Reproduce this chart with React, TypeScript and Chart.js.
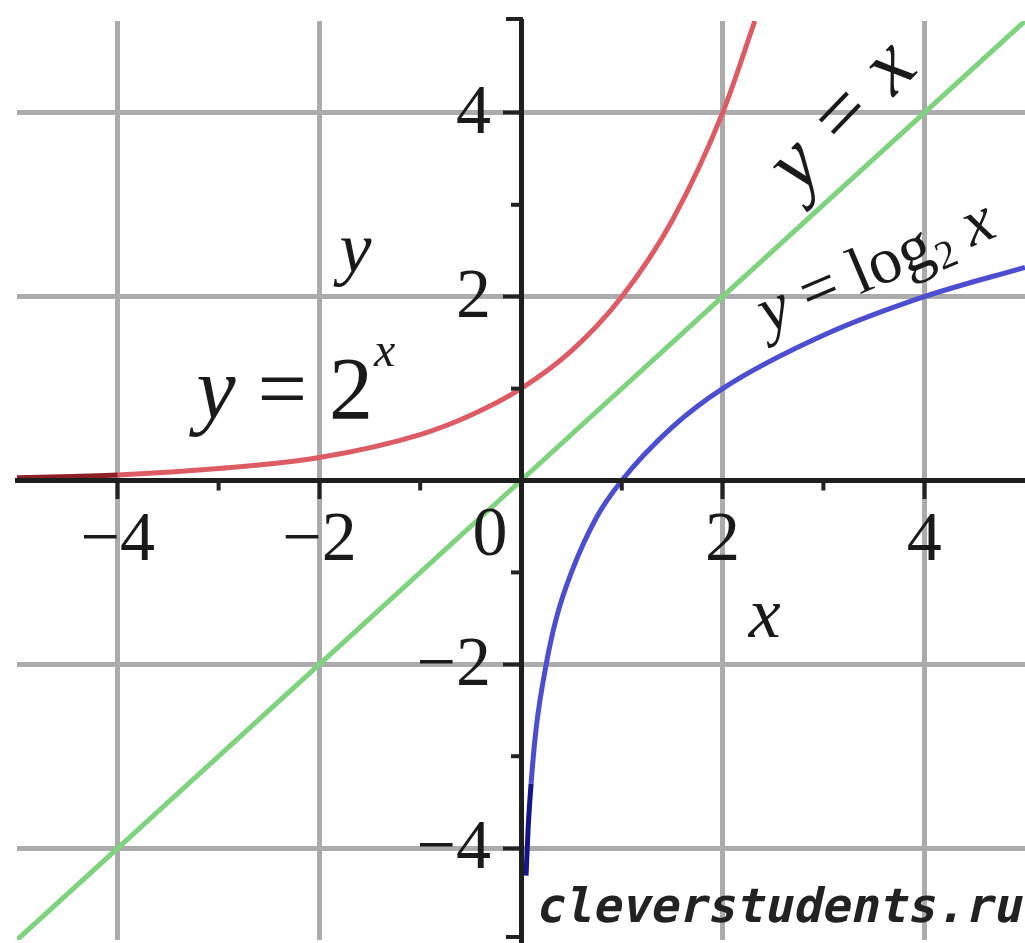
import React, { useEffect, useRef } from "react";
import { Chart, registerables } from "chart.js";

Chart.register(...registerables);

// Axis ranges and tick labels
const X_RANGE = [-5, 5];
const Y_RANGE = [-5, 5];
const X_TICKS = [-4, -2, 2, 4];
const Y_TICKS = [-4, -2, 2, 4];
const MINOR_TICKS = [-3, -1, 1, 3];

// y = 2^x (red)
const EXP_X = [-5, -4, -3, -2, -1, -0.5, 0, 0.5, 1, 1.5, 2, 2.32];
const EXP_Y = [0.03, 0.06, 0.13, 0.25, 0.5, 0.71, 1, 1.41, 2, 2.83, 4, 5];

// y = x (green)
const LIN_X = [-5, -4, -2, 0, 2, 4, 5];
const LIN_Y = [-5, -4, -2, 0, 2, 4, 5];

// y = log2 x (blue)
const LOG_X = [0.05, 0.07, 0.1, 0.15, 0.25, 0.35, 0.5, 0.75, 1, 1.5, 2, 3, 4, 5];
const LOG_Y = [-4.3, -3.8, -3.3, -2.7, -2, -1.5, -1, -0.4, 0, 0.58, 1, 1.58, 2, 2.32];

const WATERMARK = "cleverstudents.ru";

const SERIF = "'Liberation Serif', 'DejaVu Serif', serif";

const toPoints = (xs: number[], ys: number[]) => xs.map((x, i) => ({ x, y: ys[i] }));
const minusLabel = (v: number) => (v < 0 ? "\u2212" + Math.abs(v) : String(v));

const annotations = {
  id: "annotations",
  afterDraw(chart: any) {
    const { ctx, scales, chartArea } = chart;
    const xs = scales.x;
    const ys = scales.y;
    const x0 = xs.getPixelForValue(0);
    const y0 = ys.getPixelForValue(0);
    ctx.save();
    ctx.strokeStyle = "#222";
    ctx.lineWidth = 4;
    // minor ticks
    MINOR_TICKS.forEach((v) => {
      const px = xs.getPixelForValue(v);
      ctx.beginPath();
      ctx.moveTo(px, y0);
      ctx.lineTo(px, y0 + 10);
      ctx.stroke();
      const py = ys.getPixelForValue(v);
      ctx.beginPath();
      ctx.moveTo(x0, py);
      ctx.lineTo(x0 - 10, py);
      ctx.stroke();
    });
    // bracket ends of the y axis
    ctx.beginPath();
    ctx.moveTo(x0 - 15, chartArea.top - 2);
    ctx.lineTo(x0 + 2, chartArea.top - 2);
    ctx.moveTo(x0 - 15, chartArea.bottom - 3);
    ctx.lineTo(x0 + 2, chartArea.bottom - 3);
    ctx.stroke();

    ctx.fillStyle = "#1a1a1a";
    // y tick labels
    ctx.font = `70px ${SERIF}`;
    ctx.textAlign = "right";
    ctx.textBaseline = "middle";
    Y_TICKS.forEach((v) => {
      ctx.fillText(minusLabel(v), x0 - 30, ys.getPixelForValue(v) + 2);
    });
    // origin label
    ctx.textAlign = "center";
    ctx.fillText("0", x0 - 31, y0 + 56);

    // axis names
    ctx.font = `italic 72px ${SERIF}`;
    ctx.textAlign = "left";
    ctx.textBaseline = "alphabetic";
    ctx.fillText("y", xs.getPixelForValue(-1.8), ys.getPixelForValue(2.27));
    ctx.fillText("x", xs.getPixelForValue(2.26), ys.getPixelForValue(-1.7));

    // y = 2^x
    let cx = xs.getPixelForValue(-3.22);
    const by = ys.getPixelForValue(0.68);
    ctx.font = `italic 88px ${SERIF}`;
    ctx.fillText("y", cx, by);
    cx += ctx.measureText("y").width;
    ctx.font = `88px ${SERIF}`;
    ctx.fillText(" = 2", cx, by);
    cx += ctx.measureText(" = 2").width;
    ctx.font = `italic 48px ${SERIF}`;
    ctx.fillText("x", cx + 1, by - 52);

    // y = x (rotated)
    ctx.save();
    ctx.translate(xs.getPixelForValue(3.2), ys.getPixelForValue(3.95));
    ctx.rotate((-46 * Math.PI) / 180);
    ctx.font = `italic 84px ${SERIF}`;
    ctx.textAlign = "center";
    ctx.textBaseline = "middle";
    ctx.fillText("y = x", 0, 0);
    ctx.restore();

    // y = log2 x (rotated)
    ctx.save();
    ctx.translate(xs.getPixelForValue(2.45), ys.getPixelForValue(1.6));
    ctx.rotate((-23 * Math.PI) / 180);
    ctx.textAlign = "left";
    ctx.textBaseline = "alphabetic";
    let lx = 0;
    ctx.font = `italic 66px ${SERIF}`;
    ctx.fillText("y", lx, 0);
    lx += ctx.measureText("y").width;
    ctx.font = `66px ${SERIF}`;
    ctx.fillText(" = log", lx, 0);
    lx += ctx.measureText(" = log").width;
    ctx.font = `40px ${SERIF}`;
    ctx.fillText("2", lx + 1, 10);
    lx += ctx.measureText("2").width + 1;
    ctx.font = `66px ${SERIF}`;
    lx += ctx.measureText(" ").width;
    ctx.font = `italic 66px ${SERIF}`;
    ctx.fillText("x", lx, 0);
    ctx.restore();

    // watermark (slanted monospace)
    ctx.save();
    const wx = chartArea.right - 4;
    const wy = chartArea.bottom - 18;
    ctx.translate(wx, wy);
    ctx.transform(1, 0, -0.22, 1, 0, 0);
    ctx.font = `bold 47.5px 'DejaVu Sans Mono', monospace`;
    ctx.textAlign = "right";
    ctx.textBaseline = "alphabetic";
    ctx.fillStyle = "#222";
    ctx.fillText(WATERMARK, 0, 0);
    ctx.restore();
    ctx.restore();
  },
};

export default function App() {
  const canvasRef = useRef<HTMLCanvasElement | null>(null);

  useEffect(() => {
    if (!canvasRef.current) return;
    const chart = new Chart(canvasRef.current, {
      type: "scatter",
      data: {
        datasets: [
          {
            label: "y = 2^x",
            data: toPoints(EXP_X, EXP_Y),
            showLine: true,
            borderColor: "#dc5c66",
            borderWidth: 5,
            pointRadius: 0,
            cubicInterpolationMode: "monotone",
            segment: {
              borderColor: (c: any) => (c.p1.parsed.x <= -3.5 ? "#8e1f24" : undefined),
            },
          },
          {
            label: "y = x",
            data: toPoints(LIN_X, LIN_Y),
            showLine: true,
            borderColor: "#7fd27f",
            borderWidth: 5,
            pointRadius: 0,
          },
          {
            label: "y = log2 x",
            data: toPoints(LOG_X, LOG_Y),
            showLine: true,
            borderColor: "#4d4dcf",
            borderWidth: 5,
            pointRadius: 0,
            cubicInterpolationMode: "monotone",
            segment: {
              borderColor: (c: any) => (c.p1.parsed.y <= -3.3 ? "#15158a" : undefined),
            },
          },
        ],
      },
      options: {
        animation: false,
        responsive: false,
        devicePixelRatio: 1,
        layout: { padding: { left: 17, right: 0, top: 21, bottom: 3 } },
        plugins: { legend: { display: false }, tooltip: { enabled: false } },
        scales: {
          x: {
            type: "linear",
            min: X_RANGE[0],
            max: X_RANGE[1],
            position: { y: 0 } as any,
            afterBuildTicks: (s: any) => {
              s.ticks = X_TICKS.map((value) => ({ value }));
            },
            afterFit: (s: any) => {
              s.height = 0;
              s.paddingLeft = 0;
              s.paddingRight = 0;
              s.paddingTop = 0;
              s.paddingBottom = 0;
            },
            grid: {
              color: "#ababab",
              lineWidth: 5,
              drawTicks: true,
              tickLength: 16,
              tickColor: "#222",
              tickWidth: 4,
            },
            border: { display: true, color: "#1e1e1e", width: 5, z: 1 },
            ticks: {
              padding: 3,
              color: "#1a1a1a",
              font: { family: "'Liberation Serif', serif", size: 70 },
              maxRotation: 0,
              callback: (v: any) => minusLabel(Number(v)),
            },
          },
          y: {
            type: "linear",
            min: Y_RANGE[0],
            max: Y_RANGE[1],
            position: { x: 0 } as any,
            afterBuildTicks: (s: any) => {
              s.ticks = Y_TICKS.map((value) => ({ value }));
            },
            afterFit: (s: any) => {
              s.width = 0;
              s.paddingLeft = 0;
              s.paddingRight = 0;
              s.paddingTop = 0;
              s.paddingBottom = 0;
            },
            grid: {
              color: "#ababab",
              lineWidth: 5,
              drawTicks: true,
              tickLength: 16,
              tickColor: "#222",
              tickWidth: 4,
            },
            border: { display: true, color: "#1e1e1e", width: 5, z: 1 },
            ticks: { display: false },
          },
        },
      },
      plugins: [annotations],
    } as any);
    return () => chart.destroy();
  }, []);

  return (
    <div style={{ position: "absolute", left: 0, top: 0, width: 1025, height: 943, background: "#fff" }}>
      <canvas ref={canvasRef} width={1025} height={943} style={{ display: "block" }} />
    </div>
  );
}
